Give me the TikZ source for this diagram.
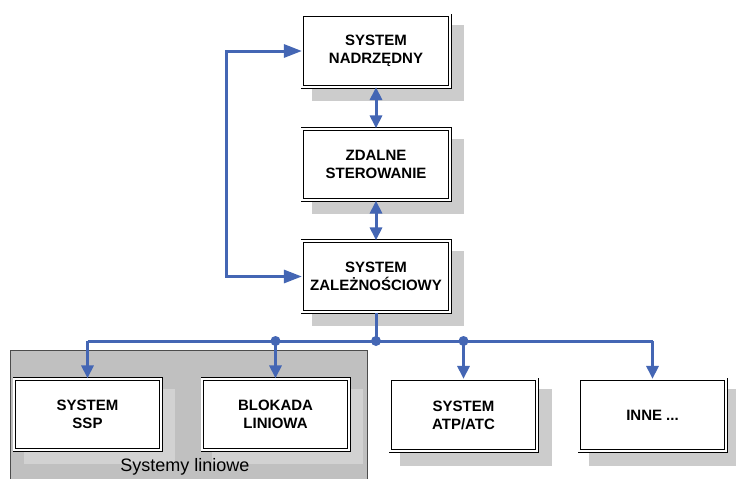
\documentclass[tikz,border=0pt]{standalone}
\usepackage{fontspec}
\setmainfont{Liberation Sans}
\usetikzlibrary{arrows.meta}
\definecolor{conblue}{RGB}{68,102,180}
\definecolor{shadowgray}{RGB}{204,204,204}
\definecolor{groupgray}{RGB}{192,192,192}
\definecolor{innershadow}{RGB}{210,210,210}
\tikzset{
  sysbox/.style={draw=black, line width=0.8pt, double=white, double distance=2pt,
    fill=white, minimum width=147.4pt, minimum height=71.4pt, inner sep=0pt,
    align=center, font=\fontsize{15}{18}\selectfont\bfseries},
  conn/.style={draw=conblue, line width=3pt},
  tipa/.style={-{Triangle[length=13pt,width=12pt]}},
  tipboth/.style={{Triangle[length=13pt,width=12pt]}-{Triangle[length=13pt,width=12pt]}},
  tipl/.style={{Triangle[length=18pt,width=13pt]}-{Triangle[length=18pt,width=13pt]}},
  jdot/.style={circle, fill=conblue, inner sep=0pt, minimum size=10pt},
}
\begin{document}
\begin{tikzpicture}[x=1pt,y=-1pt]
\clip (0,0) rectangle (736,479);
\fill[white] (0,0) rectangle (736,479);
% group
\fill[groupgray] (10,350) rectangle (367,485);
\draw[black!70, line width=0.8pt] (10,485) -- (10,350) -- (367,350) -- (367,485);
% shadows
\fill[shadowgray] (312,25) rectangle (464,101);
\fill[shadowgray] (312,139) rectangle (464,214);
\fill[shadowgray] (312,251) rectangle (464,326);
\fill[innershadow] (24,389) rectangle (175,464);
\fill[innershadow] (212,389) rectangle (363,464);
\fill[shadowgray] (400,389) rectangle (552,466);
\fill[shadowgray] (589,389) rectangle (740,466);
\node[font=\fontsize{18}{21}\selectfont] (grouplabel) at (185,467) {Systemy liniowe};
% boxes
\node[sysbox] (top) at (376,51) {SYSTEM\\NADRZĘDNY};
\node[sysbox] (mid) at (376,164.5) {ZDALNE\\STEROWANIE};
\node[sysbox] (zal) at (376,276.5) {SYSTEM\\ZALEŻNOŚCIOWY};
\node[sysbox, minimum width=146.4pt] (ssp) at (87.5,414.5) {SYSTEM\\SSP};
\node[sysbox, minimum width=146.4pt] (blk) at (275.5,414.5) {BLOKADA\\LINIOWA};
\node[sysbox, minimum width=146.4pt] (atp) at (463.5,415) {SYSTEM\\ATP/ATC};
\node[sysbox, minimum width=146.4pt] (inne) at (652.5,415) {INNE ...};
% connectors
\draw[conn, tipboth] (top.south) -- (mid.north);
\draw[conn, tipboth] (mid.south) -- (zal.north);
\draw[conn, tipl] (top.west) -- ++(-75,0) |- (zal.west);
\coordinate (bus) at (376,341);
\draw[conn] (zal.south) -- (bus);
\draw[conn] (ssp.north |- bus) -- (inne.north |- bus);
\draw[conn, tipa] (ssp.north |- bus) -- (ssp.north);
\draw[conn, tipa] (blk.north |- bus) -- (blk.north);
\draw[conn, tipa] (atp.north |- bus) -- (atp.north);
\draw[conn, tipa] (inne.north |- bus) -- (inne.north);
\node[jdot] (j1) at (blk.north |- bus) {};
\node[jdot] (j2) at (bus) {};
\node[jdot] (j3) at (atp.north |- bus) {};
\end{tikzpicture}
\end{document}
